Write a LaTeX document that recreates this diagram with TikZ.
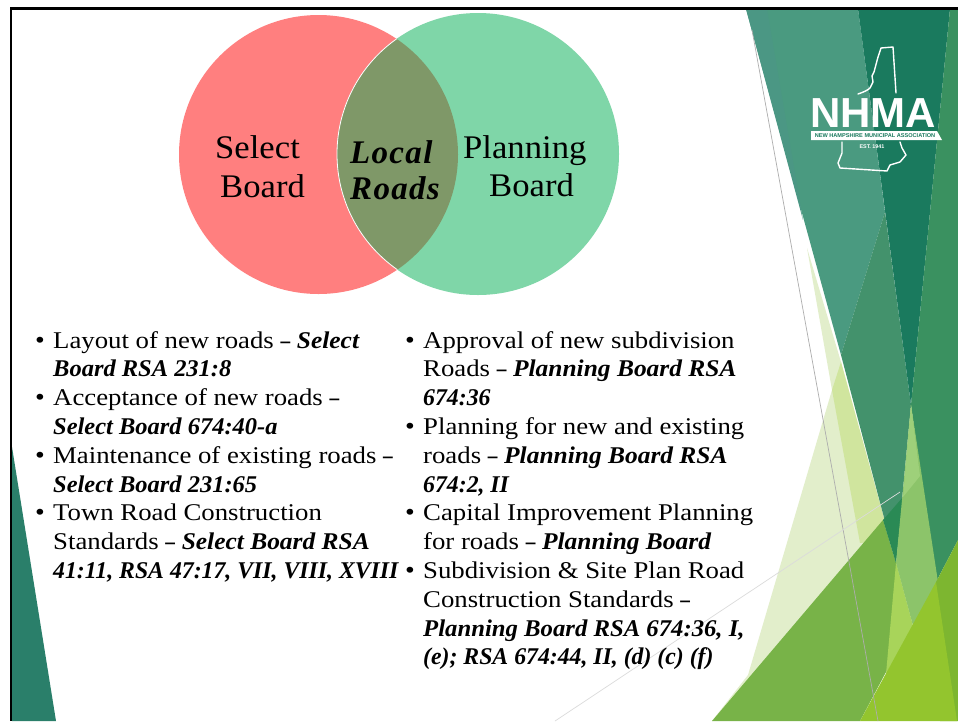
\documentclass[tikz,border=0pt]{standalone}
\usepackage{graphicx}
\usepackage{fontspec}
\setmainfont[FakeStretch=1.115]{Liberation Serif}
\newfontfamily\bifont[FakeStretch=1.02]{Liberation Serif}
\newfontfamily\biwide[FakeStretch=1.06]{Liberation Serif}
\newfontfamily\bimid[FakeStretch=1.03]{Liberation Serif}
\newfontfamily\binar[FakeStretch=0.99]{Liberation Serif}
\newfontfamily\vennfont[FakeStretch=1.05]{Liberation Serif}
\newfontfamily\vennbi[FakeStretch=1.0,LetterSpace=4]{Liberation Serif}
\newfontfamily\logofont{Liberation Sans}
\definecolor{redc}{HTML}{FF7F7F}
\definecolor{greenc}{HTML}{7FD6A8}
\definecolor{lensc}{HTML}{7F9868}
\definecolor{tealL}{HTML}{4A9A80}
\definecolor{tealE}{HTML}{4B9784}
\definecolor{tealD}{HTML}{1A7A5E}
\definecolor{greenM}{HTML}{43926C}
\definecolor{greenR}{HTML}{3A9160}
\definecolor{tealS}{HTML}{2A7F6A}
\definecolor{paleA}{HTML}{E2EECB}
\definecolor{paleB}{HTML}{D0E59E}
\definecolor{midG}{HTML}{78B348}
\definecolor{wedge}{HTML}{2A8A55}
\definecolor{lightA}{HTML}{9ED07A}
\definecolor{lightB}{HTML}{8CC46A}
\definecolor{lightC}{HTML}{A8D45A}
\definecolor{brightA}{HTML}{93C52E}
\definecolor{brightB}{HTML}{7DB630}
\tikzset{
  poly/.style={draw=none,fill=#1},
  bodytext/.style={anchor=base west,inner sep=0pt,font=\fontsize{24}{24}\selectfont,text=black},
  bul/.style={anchor=base west,inner sep=0pt,font=\fontsize{25}{25}\selectfont,text=black},
  venntext/.style={anchor=base west,inner sep=0pt,font=\vennfont\fontsize{33}{33}\selectfont,text=black},
  vennbold/.style={anchor=base west,inner sep=0pt,font=\vennbi\bfseries\itshape\fontsize{33}{33}\selectfont,text=black},
  logotext/.style={inner sep=0pt,text=white},
  nhline/.style={draw=white,line width=1.4pt,line join=round,line cap=round},
  hair/.style={draw=#1,line width=0.7pt}
}
\newcommand{\bi}{\bifont\bfseries\itshape}
\newcommand{\biw}{\biwide\bfseries\itshape}
\newcommand{\bim}{\bimid\bfseries\itshape}
\newcommand{\bin}{\binar\bfseries\itshape}
\newcommand{\sdash}{\scalebox{0.72}[1]{\bfseries –}}
\begin{document}
\begin{tikzpicture}[x=1pt,y=-1pt]
\useasboundingbox (0,0) rectangle (958,721);
\fill[white] (0,0) rectangle (958,721);
% right-hand facets
\fill[poly=paleA] (807,248) -- (841,362) -- (896,563) -- (712,721) -- (748,675) -- (832,390) -- cycle;
\fill[poly=paleB] (832,390) -- (841,362) -- (890,540) -- (860,543) -- cycle;
\fill[poly=tealL] (746,9) -- (858,9) -- (885,212) -- (841,355) -- cycle;
\fill[poly=tealE] (746,9) -- (767,9) -- (803,220) -- cycle;
\fill[poly=greenM] (885,212) -- (911,405) -- (896,563) -- (841,355) -- cycle;
\fill[poly=tealD] (858,9) -- (950,9) -- (911,405) -- cycle;
\fill[poly=greenR] (950,9) -- (958,9) -- (958,540) -- (936,582) -- (911,405) -- cycle;
\fill[poly=midG] (712,721) -- (883,520) -- (896,563) -- (912,623) -- (860,721) -- cycle;
\fill[poly=wedge] (883,520) -- (903,497) -- (896,563) -- cycle;
\fill[poly=lightB] (911,405) -- (938,582) -- (913,626) -- (896,563) -- cycle;
\fill[poly=lightA] (911,405) -- (920,476) -- (903,497) -- cycle;
\fill[poly=lightC] (896,563) -- (913,626) -- (886,674) -- cycle;
\fill[poly=brightB] (936,582) -- (958,540) -- (958,721) -- (940,721) -- cycle;
\fill[poly=brightA] (860,721) -- (936,582) -- (957,721) -- cycle;
\fill[poly=tealS] (12,447) -- (56,721) -- (12,721) -- cycle;
\coordinate (hairA) at (752,30);
\coordinate (hairB) at (878,721);
\coordinate (hairC) at (555,721);
\coordinate (hairD) at (900,492);
\draw[hair=black!32] (hairA) -- (hairB);
\draw[hair=black!14] (hairC) -- (hairD);
% frame
\fill[black] (10,7) rectangle (958,9.5);
\fill[black] (9.5,7) rectangle (12,721);
% Venn
\fill[redc] (318.5,154.5) circle[radius=139.5pt];
\fill[greenc] (478,154) circle[radius=141pt];
\begin{scope}
\clip (318.5,154.5) circle[radius=139.5pt];
\fill[lensc] (478,154) circle[radius=141pt];
\draw[white,line width=0.8pt] (478,154) circle[radius=141pt];
\end{scope}
\node[venntext] (sel1) at (215,158) {Select};
\node[venntext] (sel2) at (220,197) {Board};
\node[vennbold] (loc1) at (350,163) {Local};
\node[vennbold] (loc2) at (350,199) {Roads};
\node[venntext] (pla1) at (463,158) {Planning};
\node[venntext] (pla2) at (489,196) {Board};
% left column
\node[bul] (lb1) at (35,348) {•};
\node[bul] (lb2) at (35,405.6) {•};
\node[bul] (lb3) at (35,463.2) {•};
\node[bul] (lb4) at (35,520.8) {•};
\node[bodytext] (l1) at (53,348) {Layout of new roads \sdash{} {\biw Select}};
\node[bodytext] (l2) at (53,376.8) {\bi Board RSA 231:8};
\node[bodytext] (l3) at (53,405.6) {Acceptance of new roads \sdash};
\node[bodytext] (l4) at (53,434.4) {\bi Select Board 674:40-a};
\node[bodytext] (l5) at (53,463.2) {Maintenance of existing roads \sdash};
\node[bodytext] (l6) at (53,492) {\bi Select Board 231:65};
\node[bodytext] (l7) at (53,520.8) {Town Road Construction};
\node[bodytext] (l8) at (53,549.6) {Standards \sdash{} {\biw Select Board RSA}};
\node[bodytext] (l9) at (53,578.4) {\bin 41:11, RSA 47:17, VII, VIII, XVIII};
% right column
\node[bul] (rb1) at (405,348) {•};
\node[bul] (rb2) at (405,434.4) {•};
\node[bul] (rb3) at (405,520.8) {•};
\node[bul] (rb4) at (405,578.4) {•};
\node[bodytext] (r1) at (423,348) {Approval of new subdivision};
\node[bodytext] (r2) at (423,376.8) {Roads \sdash{} {\biw Planning Board RSA}};
\node[bodytext] (r3) at (423,405.6) {\bin 674:36};
\node[bodytext] (r4) at (423,434.4) {Planning for new and existing};
\node[bodytext] (r5) at (423,463.2) {roads \sdash{} {\biw Planning Board RSA}};
\node[bodytext] (r6) at (423,492) {\bin 674:2, II};
\node[bodytext] (r7) at (423,520.8) {Capital Improvement Planning};
\node[bodytext] (r8) at (423,549.6) {for roads \sdash{} {\biw Planning Board}};
\node[bodytext] (r9) at (423,578.4) {Subdivision \& Site Plan Road};
\node[bodytext] (r10) at (423,607.2) {Construction Standards \sdash};
\node[bodytext] (r11) at (423,636) {\bim Planning Board RSA 674:36, I,};
\node[bodytext] (r12) at (423,664.8) {\bin (e); RSA 674:44, II, (d) (c) (f)};
% logo
\draw[nhline] (858,94) .. controls (864,92) and (868,90) .. (870,88) -- (873,82) -- (872,76) -- (874,72) -- (878,57) -- (881,48) -- (893,47) -- (896,93);
\draw[nhline] (842,142) -- (842,153) -- (838,163) -- (840,168) -- (887,171) -- (890,165) -- (900,162) -- (906,155) -- (902,148) -- (900,142);
\fill[white] (811,131) -- (937,131) -- (942,140) -- (811,140) -- cycle;
\node[logotext,anchor=base west,font=\logofont\bfseries\fontsize{42}{30}\selectfont] (nhma) at (810,127) {NHMA};
\node[logotext,text=tealD,anchor=center,font=\logofont\bfseries\fontsize{5.6}{5.6}\selectfont] (assoc) at (875,136) {NEW HAMPSHIRE MUNICIPAL ASSOCIATION};
\node[logotext,anchor=center,font=\logofont\bfseries\fontsize{5.4}{5.4}\selectfont] (est) at (872,147) {EST. 1941};
\end{tikzpicture}
\end{document}
